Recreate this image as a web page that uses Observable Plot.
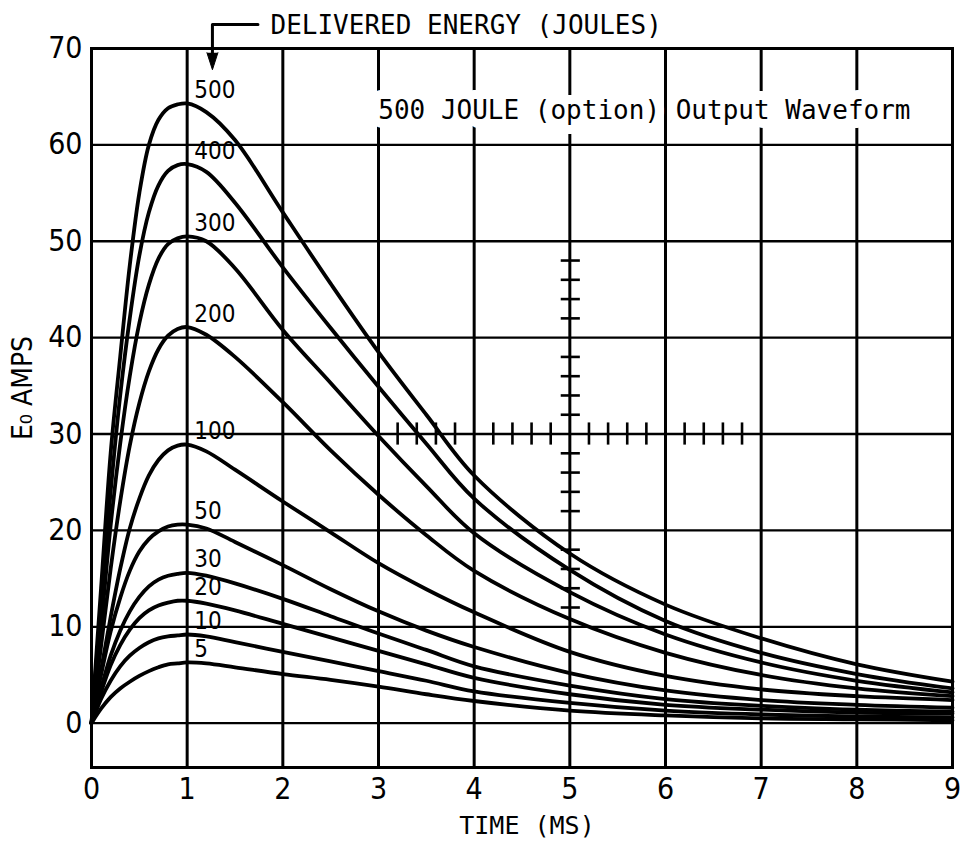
<!DOCTYPE html>
<html>
<head>
<meta charset="utf-8">
<script src="https://cdn.jsdelivr.net/npm/d3@7"></script>
<script src="https://cdn.jsdelivr.net/npm/@observablehq/plot@0.6"></script>
<style>
  html, body { margin: 0; padding: 0; background: #fff; }
  #chart svg { display: block; }
</style>
</head>
<body>
<div id="chart"></div>
<script>
// ---- data ----
const time = [0, 0.1, 0.2, 0.3, 0.4, 0.5, 0.6, 0.7, 0.8, 0.9, 1, 1.2, 1.5, 2, 2.5, 3, 3.5, 4, 5, 6, 7, 8, 9];
const energies = [500, 400, 300, 200, 100, 50, 30, 20, 10, 5];
const amps500 = [0, 14, 28, 38, 47.5, 55, 60, 62.6, 63.8, 64.2, 64.3, 63.4, 60.5, 53.0, 45.6, 38.5, 32.0, 25.7, 17.6, 12.3, 8.8, 6.1, 4.3];
const amps400 = [0, 12, 24, 34, 42, 48.5, 53, 55.8, 57.3, 57.9, 58.0, 57.2, 54.0, 47.3, 41.0, 34.9, 29.0, 23.3, 15.9, 10.6, 7.3, 5.1, 3.6];
const amps300 = [0, 10, 20.5, 29, 36, 41.5, 45.5, 48.2, 49.7, 50.3, 50.5, 50.0, 47.2, 40.8, 35.3, 29.8, 24.6, 19.7, 13.6, 9.2, 6.3, 4.4, 3.2];
const amps200 = [0, 8, 16, 23, 28.8, 33.2, 36.5, 38.8, 40.2, 40.9, 41.1, 40.3, 38.0, 33.3, 28.3, 23.7, 19.5, 15.8, 10.8, 7.3, 5.0, 3.6, 2.8];
const amps100 = [0, 5.5, 11, 16, 20.2, 23.3, 25.7, 27.3, 28.3, 28.8, 28.9, 28.2, 26.3, 23.0, 19.8, 16.6, 13.9, 11.5, 7.4, 4.9, 3.5, 2.8, 2.4];
const amps50  = [0, 5, 9.5, 13, 15.8, 17.8, 19.1, 19.9, 20.4, 20.6, 20.6, 20.2, 18.8, 16.4, 13.9, 11.6, 9.6, 7.9, 5.2, 3.4, 2.4, 1.9, 1.6];
const amps30  = [0, 3.6, 7, 9.6, 11.6, 13.1, 14.2, 14.9, 15.3, 15.5, 15.6, 15.3, 14.5, 12.9, 11.1, 9.3, 7.6, 5.9, 3.9, 2.5, 1.8, 1.4, 1.2];
const amps20  = [0, 3.2, 6, 8.1, 9.7, 10.9, 11.7, 12.2, 12.5, 12.7, 12.7, 12.4, 11.7, 10.3, 8.9, 7.5, 6.1, 4.7, 3.0, 1.9, 1.4, 1.1, 1.0];
const amps10  = [0, 2.5, 4.4, 5.9, 7.0, 7.8, 8.4, 8.8, 9.0, 9.1, 9.2, 9.0, 8.4, 7.4, 6.4, 5.4, 4.4, 3.3, 2.1, 1.3, 0.9, 0.7, 0.6];
const amps5   = [0, 1.5, 2.7, 3.6, 4.3, 4.9, 5.4, 5.8, 6.1, 6.2, 6.3, 6.2, 5.8, 5.1, 4.5, 3.8, 3.0, 2.3, 1.3, 0.8, 0.5, 0.4, 0.3];

const xTicks = [0, 1, 2, 3, 4, 5, 6, 7, 8, 9];
const yTicks = [0, 10, 20, 30, 40, 50, 60, 70];
const crossX = [3.2, 3.4, 3.6, 3.8, 4.2, 4.4, 4.6, 4.8, 5.2, 5.4, 5.6, 5.8, 6.2, 6.4, 6.6, 6.8];
const crossY = [12, 14, 16, 18, 22, 24, 26, 28, 32, 34, 36, 38, 42, 44, 46, 48];
const crossCenter = [5, 30];

const titleText = "500 JOULE (option) Output Waveform";
const energyNote = "DELIVERED ENERGY (JOULES)";
const xLabel = "TIME (MS)";
const yLabel = "E\u2080 AMPS";
const arrowPath = [[1.74, 72.5], [1.264, 72.5], [1.264, 69.4]];
const arrowTip = [[1.264, 67.8]];

// ---- build table ----
const series = [amps500, amps400, amps300, amps200, amps100, amps50, amps30, amps20, amps10, amps5];
const data = energies.flatMap((e, i) => time.map((t, j) => ({ t, v: series[i][j], e })));

const SANS = "'DejaVu Sans Condensed', 'Liberation Sans Narrow', 'Arial Narrow', 'DejaVu Sans', sans-serif";
const MONO = "'DejaVu Sans Mono', 'Liberation Mono', monospace";

const chart = Plot.plot({
  width: 960,
  height: 844,
  marginLeft: 91,
  marginRight: 8,
  marginTop: 48,
  marginBottom: 77,
  x: { domain: [0, 9] },
  y: { domain: [-4.6, 70] },
  style: { fontFamily: SANS, fontSize: "30px", fontStretch: "condensed", color: "black", background: "white", overflow: "visible" },
  marks: [
    Plot.ruleY(yTicks, { stroke: "black", strokeWidth: 2.3 }),
    Plot.ruleX(xTicks, { stroke: "black", strokeWidth: 3 }),
    Plot.text([titleText], {
      text: d => d, frameAnchor: "top-right", dx: -42, dy: 62, textAnchor: "end", lineAnchor: "middle",
      fontFamily: MONO, fontSize: 26, fill: "black", stroke: "white", strokeWidth: 18
    }),
    Plot.ruleX(crossX, { x: d => d, y1: crossCenter[1] - 1.15, y2: crossCenter[1] + 1.15, stroke: "black", strokeWidth: 2.6 }),
    Plot.ruleY(crossY, { y: d => d, x1: crossCenter[0] - 0.09, x2: crossCenter[0] + 0.11, stroke: "black", strokeWidth: 2.6 }),
    Plot.line(data, { x: "t", y: "v", z: "e", curve: "catmull-rom", stroke: "black", strokeWidth: 3.8 }),
    Plot.text(data.filter(d => d.t === 1), {
      x: "t", y: "v", text: d => String(d.e), dx: 7, dy: -13, textAnchor: "start", fontSize: 24, fill: "black"
    }),
    Plot.axisX({ ticks: xTicks, tickSize: 0, tickPadding: 10, fontSize: 30, label: null }),
    Plot.axisY({ ticks: yTicks, tickSize: 0, tickPadding: 9, fontSize: 30, label: null }),
    Plot.text([xLabel], { text: d => d, frameAnchor: "bottom", lineAnchor: "middle", dx: 5, dy: 58, fontFamily: MONO, fontSize: 25, fill: "black" }),
    Plot.text([yLabel], { text: d => d, frameAnchor: "left", textAnchor: "middle", lineAnchor: "middle", rotate: -90, dx: -68, dy: -20, fontSize: 28, fill: "black" }),
    Plot.line(arrowPath, { stroke: "black", strokeWidth: 3 }),
    Plot.vector(arrowTip, {
      x: d => d[0], y: d => d[1], length: 17, rotate: 180, shape: "spike", anchor: "end",
      r: 5.5, fill: "black", stroke: "black", strokeWidth: 1
    }),
    Plot.text([energyNote], {
      text: d => d, frameAnchor: "top-left", dx: 179, dy: -23, textAnchor: "start", lineAnchor: "middle",
      fontFamily: MONO, fontSize: 26, fill: "black"
    }),
    Plot.frame({ stroke: "black", strokeWidth: 3 })
  ]
});

document.getElementById("chart").appendChild(chart);
</script>
</body>
</html>
